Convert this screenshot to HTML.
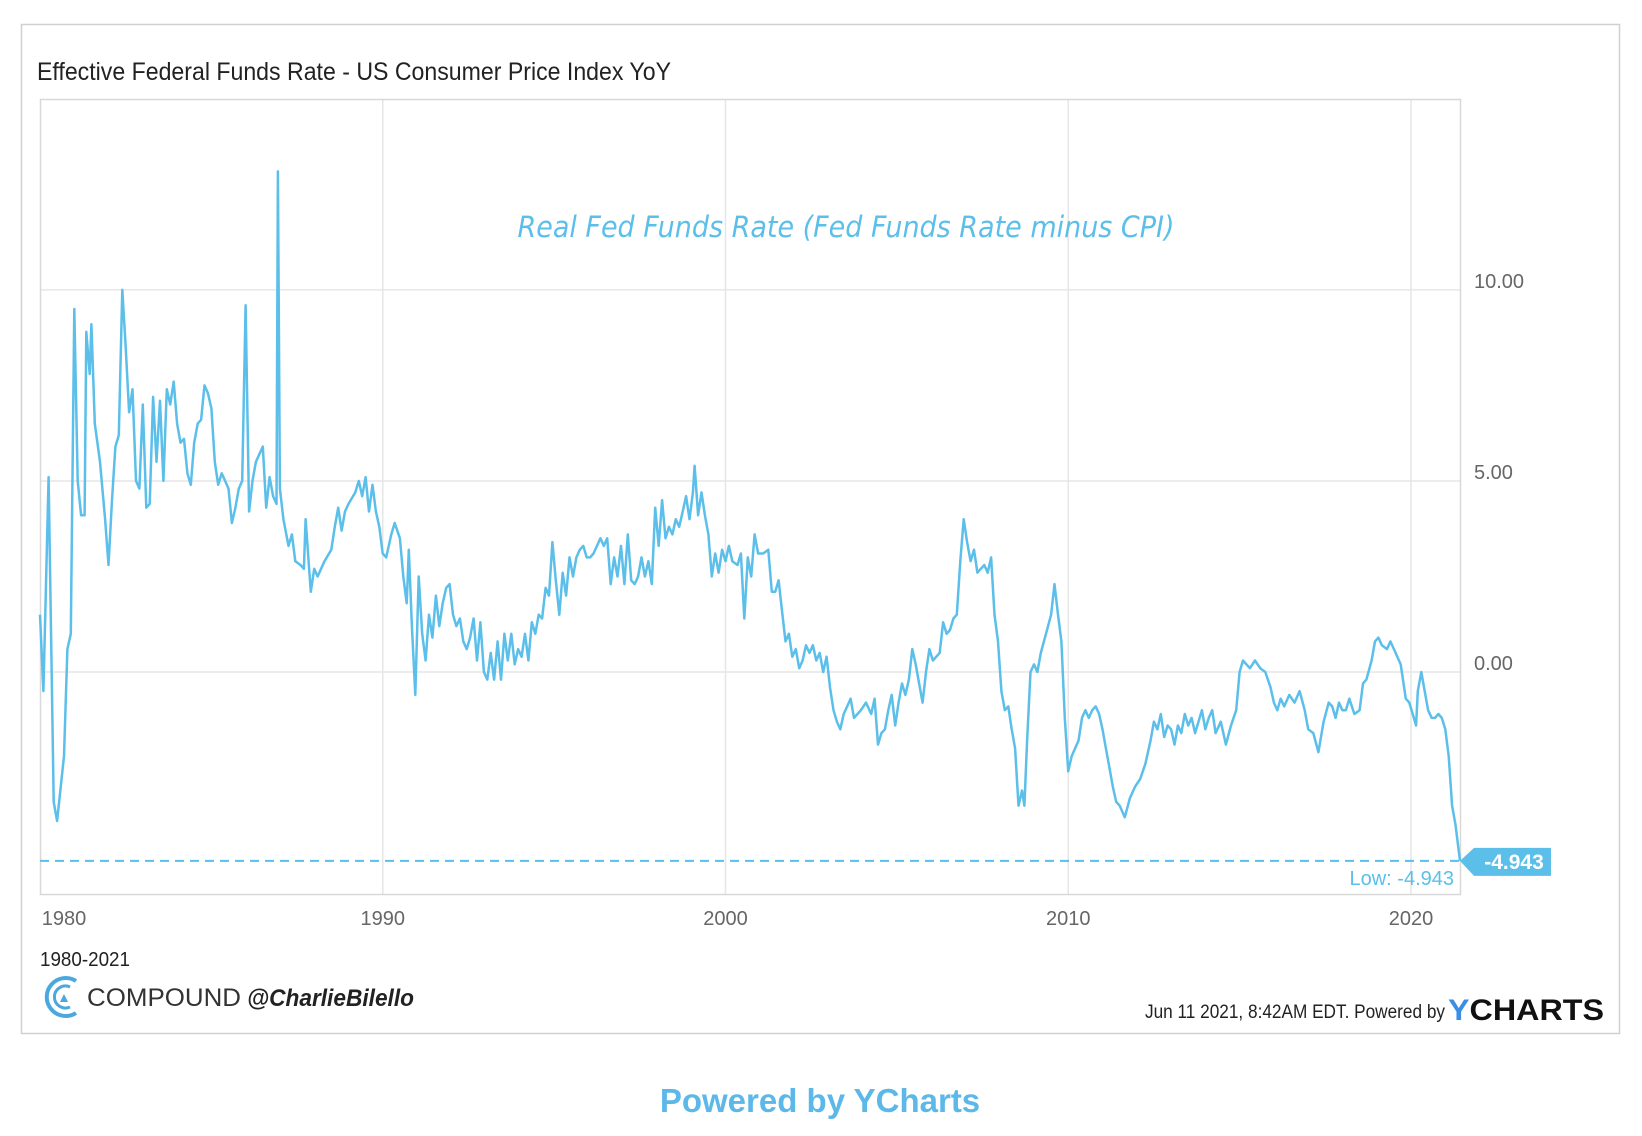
<!DOCTYPE html>
<html><head><meta charset="utf-8"><style>
html,body{margin:0;padding:0;background:#fff;}
svg{display:block;}
text{font-family:"Liberation Sans Narrow","Liberation Sans",sans-serif;}
</style></head><body>
<svg id="chart" width="1642" height="1136" viewBox="0 0 1642 1136">
<rect x="21.5" y="24.5" width="1598" height="1009" fill="#fff" stroke="#d0d0d0" stroke-width="1.5"/>
<text x="37" y="80" font-size="25" fill="#222" textLength="634" lengthAdjust="spacingAndGlyphs">Effective Federal Funds Rate - US Consumer Price Index YoY</text>
<g id="grid"></g>
<rect x="40.5" y="99.5" width="1420" height="795" fill="none" stroke="#d8d8d8" stroke-width="1.5"/>
<g id="yt"></g>
<g id="xt"></g>
<text x="846" y="237" text-anchor="middle" font-size="29" font-style="italic" fill="#5bbfea" textLength="657" lengthAdjust="spacingAndGlyphs" style="font-family:'DejaVu Sans',sans-serif">Real Fed Funds Rate (Fed Funds Rate minus CPI)</text>
<g id="series"></g>
<text x="40" y="966" font-size="20" fill="#222" textLength="90" lengthAdjust="spacingAndGlyphs">1980-2021</text>
<g>
<path d="M76 981 A19 19 0 1 0 76 1013" fill="none" stroke="#4aa8de" stroke-width="4"/>
<path d="M70 987 A11 11 0 1 0 70 1007" fill="none" stroke="#4aa8de" stroke-width="3"/>
<path d="M60 1002 L64 994 L68 1002 Z" fill="#4aa8de"/>
<text x="87" y="1006" font-size="25" fill="#333" textLength="154" lengthAdjust="spacingAndGlyphs" style="font-family:'Liberation Sans',sans-serif">COMPOUND</text>
<text x="247" y="1006" font-size="24" font-weight="bold" font-style="italic" fill="#222" textLength="167" lengthAdjust="spacingAndGlyphs" style="font-family:'Liberation Sans',sans-serif">@CharlieBilello</text>
</g>
<text x="1145" y="1018" font-size="19" fill="#222" textLength="300" lengthAdjust="spacingAndGlyphs">Jun 11 2021, 8:42AM EDT.  Powered by</text>
<text x="1448" y="1020" font-size="30" font-weight="bold" fill="#111" textLength="156" lengthAdjust="spacingAndGlyphs" style="font-family:'Liberation Sans',sans-serif"><tspan fill="#3a8ee6">Y</tspan>CHARTS</text>
<text x="820" y="1112" text-anchor="middle" font-size="33" font-weight="bold" fill="#5bb8e8" style="font-family:'Liberation Sans',sans-serif">Powered by YCharts</text>
</svg>
<script>
const years = [1980.0,1980.1,1980.25,1980.4,1980.5,1980.7,1980.8,1980.9,1981.0,1981.1,1981.2,1981.3,1981.35,1981.45,1981.5,1981.6,1981.75,1981.9,1982.0,1982.1,1982.2,1982.3,1982.4,1982.5,1982.6,1982.7,1982.8,1982.9,1983.0,1983.1,1983.2,1983.3,1983.4,1983.5,1983.6,1983.7,1983.8,1983.9,1984.0,1984.1,1984.2,1984.3,1984.4,1984.5,1984.6,1984.7,1984.8,1984.9,1985.0,1985.1,1985.2,1985.3,1985.4,1985.5,1985.6,1985.7,1985.8,1985.9,1986.0,1986.1,1986.2,1986.3,1986.5,1986.6,1986.7,1986.8,1986.9,1986.94,1987.0,1987.1,1987.25,1987.35,1987.45,1987.6,1987.7,1987.75,1987.9,1988.0,1988.1,1988.3,1988.5,1988.6,1988.7,1988.8,1988.9,1989.0,1989.2,1989.3,1989.4,1989.5,1989.6,1989.7,1989.8,1989.9,1990.0,1990.1,1990.25,1990.35,1990.5,1990.6,1990.7,1990.76,1990.85,1990.95,1991.05,1991.15,1991.25,1991.35,1991.45,1991.55,1991.65,1991.75,1991.85,1991.95,1992.05,1992.15,1992.25,1992.35,1992.45,1992.55,1992.65,1992.75,1992.85,1992.95,1993.05,1993.15,1993.25,1993.35,1993.45,1993.55,1993.65,1993.75,1993.85,1993.95,1994.05,1994.15,1994.25,1994.35,1994.45,1994.55,1994.65,1994.75,1994.85,1994.95,1995.05,1995.15,1995.25,1995.35,1995.45,1995.55,1995.65,1995.75,1995.85,1995.95,1996.05,1996.15,1996.25,1996.35,1996.45,1996.55,1996.65,1996.75,1996.85,1996.95,1997.05,1997.15,1997.25,1997.35,1997.45,1997.55,1997.65,1997.75,1997.85,1997.95,1998.05,1998.15,1998.25,1998.35,1998.45,1998.55,1998.65,1998.75,1998.85,1998.95,1999.05,1999.1,1999.2,1999.3,1999.4,1999.5,1999.6,1999.7,1999.8,1999.9,2000.0,2000.1,2000.2,2000.35,2000.45,2000.55,2000.65,2000.75,2000.85,2000.95,2001.1,2001.25,2001.35,2001.45,2001.55,2001.65,2001.75,2001.85,2001.95,2002.05,2002.15,2002.25,2002.35,2002.45,2002.55,2002.65,2002.75,2002.85,2002.95,2003.05,2003.15,2003.25,2003.35,2003.45,2003.55,2003.65,2003.75,2003.85,2003.95,2004.1,2004.25,2004.35,2004.45,2004.55,2004.65,2004.75,2004.85,2004.95,2005.05,2005.15,2005.25,2005.35,2005.45,2005.55,2005.65,2005.75,2005.85,2005.95,2006.05,2006.15,2006.25,2006.35,2006.45,2006.55,2006.65,2006.75,2006.85,2006.95,2007.05,2007.15,2007.25,2007.35,2007.45,2007.55,2007.65,2007.75,2007.85,2007.95,2008.05,2008.15,2008.25,2008.35,2008.45,2008.55,2008.65,2008.72,2008.8,2008.9,2009.0,2009.1,2009.2,2009.35,2009.5,2009.6,2009.7,2009.8,2009.9,2010.0,2010.1,2010.2,2010.3,2010.4,2010.5,2010.6,2010.7,2010.8,2010.9,2011.0,2011.1,2011.2,2011.3,2011.4,2011.5,2011.65,2011.8,2011.95,2012.1,2012.25,2012.4,2012.5,2012.6,2012.7,2012.8,2012.9,2013.0,2013.1,2013.2,2013.3,2013.4,2013.5,2013.6,2013.7,2013.8,2013.9,2014.0,2014.1,2014.2,2014.3,2014.45,2014.6,2014.75,2014.9,2015.0,2015.1,2015.2,2015.3,2015.45,2015.6,2015.75,2015.9,2016.0,2016.1,2016.2,2016.3,2016.45,2016.6,2016.75,2016.9,2017.0,2017.15,2017.3,2017.45,2017.6,2017.7,2017.8,2017.9,2018.0,2018.1,2018.2,2018.35,2018.5,2018.6,2018.7,2018.85,2018.95,2019.05,2019.15,2019.3,2019.4,2019.55,2019.7,2019.85,2019.95,2020.05,2020.15,2020.2,2020.3,2020.4,2020.5,2020.6,2020.7,2020.8,2020.9,2021.0,2021.1,2021.2,2021.3,2021.43];
const values = [1.5,-0.5,5.1,-3.4,-3.9,-2.2,0.6,1.0,9.5,5.0,4.1,4.1,8.9,7.8,9.1,6.5,5.5,4.0,2.8,4.5,5.9,6.2,10.0,8.5,6.8,7.4,5.0,4.8,7.0,4.3,4.4,7.2,5.5,7.1,5.0,7.4,7.0,7.6,6.5,6.0,6.1,5.2,4.9,6.0,6.5,6.6,7.5,7.3,6.9,5.5,4.9,5.2,5.0,4.8,3.9,4.3,4.8,5.0,9.6,4.2,5.0,5.5,5.9,4.3,5.1,4.6,4.4,13.1,4.8,4.0,3.3,3.6,2.9,2.8,2.7,4.0,2.1,2.7,2.5,2.9,3.2,3.8,4.3,3.7,4.2,4.4,4.7,5.0,4.6,5.1,4.2,4.9,4.2,3.8,3.1,3.0,3.6,3.9,3.5,2.5,1.8,3.2,1.2,-0.6,2.5,1.0,0.3,1.5,0.9,2.0,1.2,1.8,2.2,2.3,1.5,1.2,1.4,0.8,0.6,0.9,1.4,0.3,1.3,0.0,-0.2,0.5,-0.2,0.8,-0.2,1.0,0.3,1.0,0.2,0.6,0.4,1.0,0.3,1.3,1.0,1.5,1.4,2.2,2.0,3.4,2.4,1.5,2.6,2.0,3.0,2.5,3.0,3.2,3.3,3.0,3.0,3.1,3.3,3.5,3.3,3.5,2.3,3.0,2.5,3.3,2.3,3.6,2.4,2.3,2.5,3.0,2.5,2.9,2.3,4.3,3.3,4.5,3.5,3.8,3.6,4.0,3.8,4.2,4.6,4.0,4.7,5.4,4.1,4.7,4.1,3.6,2.5,3.1,2.6,3.2,2.9,3.3,2.9,2.8,3.1,1.4,3.0,2.5,3.6,3.1,3.1,3.2,2.1,2.1,2.4,1.6,0.8,1.0,0.4,0.6,0.1,0.3,0.7,0.5,0.7,0.3,0.5,0.0,0.4,-0.4,-1.0,-1.3,-1.5,-1.1,-0.9,-0.7,-1.2,-1.1,-1.0,-0.8,-1.1,-0.7,-1.9,-1.6,-1.5,-1.0,-0.6,-1.4,-0.8,-0.3,-0.6,-0.2,0.6,0.2,-0.3,-0.8,0.0,0.6,0.3,0.4,0.5,1.3,1.0,1.1,1.4,1.5,2.9,4.0,3.4,2.9,3.2,2.6,2.7,2.8,2.6,3.0,1.5,0.8,-0.5,-1.0,-0.9,-1.5,-2.0,-3.5,-3.1,-3.5,-1.8,0.0,0.2,0.0,0.5,1.0,1.5,2.3,1.5,0.8,-1.2,-2.6,-2.2,-2.0,-1.8,-1.2,-1.0,-1.2,-1.0,-0.9,-1.1,-1.5,-2.0,-2.5,-3.0,-3.4,-3.5,-3.8,-3.3,-3.0,-2.8,-2.4,-1.8,-1.3,-1.5,-1.1,-1.7,-1.4,-1.5,-1.9,-1.4,-1.6,-1.1,-1.4,-1.2,-1.6,-1.3,-1.0,-1.5,-1.2,-1.0,-1.6,-1.3,-1.9,-1.4,-1.0,0.0,0.3,0.2,0.1,0.3,0.1,0.0,-0.4,-0.8,-1.0,-0.7,-0.9,-0.6,-0.8,-0.5,-1.0,-1.5,-1.6,-2.1,-1.3,-0.8,-0.9,-1.2,-0.8,-1.0,-1.0,-0.7,-1.1,-1.0,-0.3,-0.2,0.3,0.8,0.9,0.7,0.6,0.8,0.5,0.2,-0.7,-0.8,-1.1,-1.4,-0.5,0.0,-0.5,-1.0,-1.2,-1.2,-1.1,-1.2,-1.5,-2.2,-3.5,-4.0,-4.943];
const yTicks = [0, 5, 10];
const yTickLabels = ["0.00", "5.00", "10.00"];
const xTicks = [1980, 1990, 2000, 2010, 2020];
const lowValue = -4.943;

const NS = "http://www.w3.org/2000/svg";
const X0 = 1980, X1 = 2021.43, PX0 = 40, PX1 = 1460;
function xs(v){ return PX0 + (v - X0) / (X1 - X0) * (PX1 - PX0); }
function ys(v){ return 672 - v * 38.21; }
function mk(tag, attrs, parent){ const e = document.createElementNS(NS, tag); for (const k in attrs) e.setAttribute(k, attrs[k]); parent.appendChild(e); return e; }

const grid = document.getElementById('grid');
const yt = document.getElementById('yt');
const xt = document.getElementById('xt');
yTicks.forEach((t, i) => {
  const l = mk('line', {x1: PX0, x2: PX1, y1: ys(t), y2: ys(t), stroke: '#e6e6e6', 'stroke-width': 1.5}, grid);
  
  
  const tx = mk('text', {x: 1474, y: ys(t) - 2, 'font-size': 20, fill: '#666'}, yt);
  tx.textContent = yTickLabels[i];
  
  
});
xTicks.forEach(t => {
  if (t > X0) {
    const l = mk('line', {x1: xs(t), x2: xs(t), y1: 99, y2: 894, stroke: '#e6e6e6', 'stroke-width': 1.5}, grid);
    
    
  }
  const tx = mk('text', {x: t === X0 ? xs(t) + 24 : xs(t), y: 925, 'font-size': 20, fill: '#666', 'text-anchor': 'middle'}, xt);
  tx.textContent = String(t);
  
  
});

const series = document.getElementById('series');
const low = mk('line', {x1: PX0, x2: PX1, y1: ys(lowValue), y2: ys(lowValue), stroke: '#5bbfea', 'stroke-width': 2, 'stroke-dasharray': '9,6'}, series);


const lowTxt = mk('text', {x: PX1 - 6, y: ys(lowValue) + 24, 'font-size': 20, fill: '#5bbfea', 'text-anchor': 'end'}, series);
lowTxt.textContent = 'Low: ' + lowValue.toFixed(3);



let d = '';
years.forEach((yr, i) => { d += (i ? 'L' : 'M') + xs(yr).toFixed(1) + ' ' + ys(values[i]).toFixed(1); });
const path = mk('path', {d: d, fill: 'none', stroke: '#5bbfea', 'stroke-width': 2.5, 'stroke-linejoin': 'round'}, series);



const lastY = ys(values[values.length - 1]);
const lastX = xs(years[years.length - 1]);
const flag = mk('path', {d: `M${lastX} ${lastY} L${lastX + 14} ${lastY - 13} L${lastX + 91} ${lastY - 13} L${lastX + 91} ${lastY + 15} L${lastX + 14} ${lastY + 15} Z`, fill: '#5bbfea'}, series);


const flagTxt = mk('text', {x: lastX + 54, y: lastY + 8, 'font-size': 21, 'font-weight': 'bold', fill: '#fff', 'text-anchor': 'middle'}, series);
flagTxt.textContent = values[values.length - 1].toFixed(3);


</script>
</body></html>
